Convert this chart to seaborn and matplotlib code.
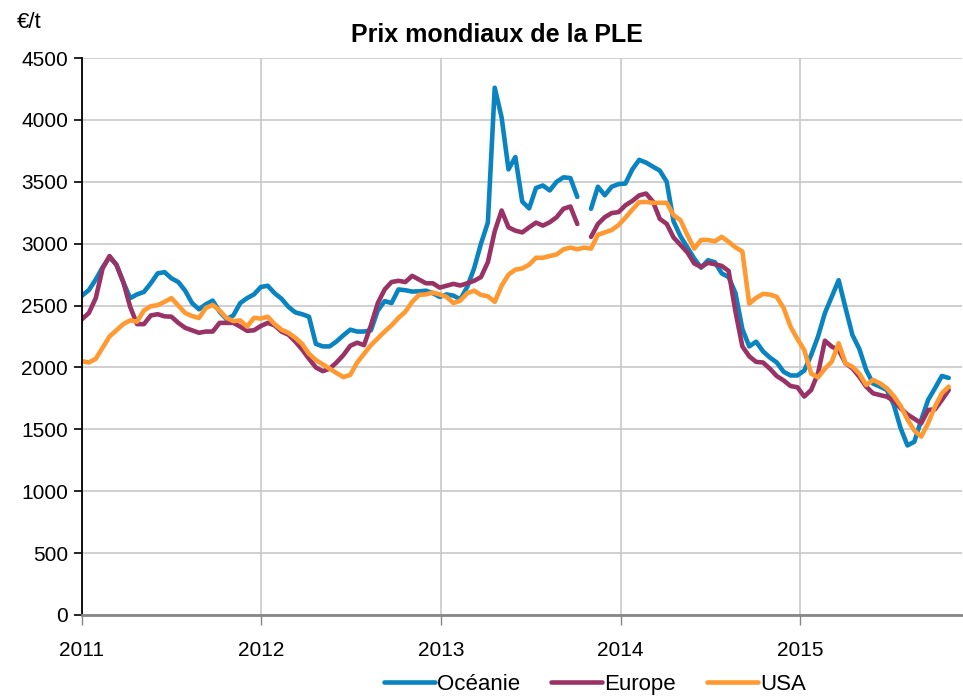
import pandas as pd
import numpy as np
import matplotlib
matplotlib.use("Agg")
import matplotlib.pyplot as plt
import matplotlib.dates as mdates
import seaborn as sns

# biweekly prices (EUR/t), from Jan 2011 to end Oct 2015
dates = pd.date_range("2011-01-01", periods=127, freq="14D")

oceanie = [2580, 2625, 2710, 2810, 2890, 2830, 2690, 2560, 2590, 2610,
           2680, 2760, 2770, 2720, 2690, 2620, 2520, 2470, 2510, 2540,
           2450, 2390, 2420, 2520, 2560, 2590, 2650, 2660, 2600, 2555,
           2490, 2445, 2430, 2410, 2190, 2170, 2170, 2210, 2260, 2305,
           2290, 2290, 2300, 2460, 2536, 2520, 2630, 2624, 2613, 2615,
           2620, 2600, 2570, 2590, 2580, 2550, 2650, 2800, 3000, 3170,
           4260, 4020, 3600, 3700, 3340, 3285, 3450, 3470, 3430, 3500,
           3536, 3530, 3378, np.nan, 3282, 3460, 3391, 3460, 3481, 3486,
           3600, 3677, 3655, 3622, 3590, 3500, 3180, 3060, 2970, 2880,
           2806, 2866, 2850, 2760, 2730, 2600, 2310, 2170, 2208, 2130,
           2080, 2040, 1965, 1935, 1935, 1975, 2100, 2250, 2440, 2572,
           2705, 2480, 2262, 2150, 1980, 1870, 1845, 1818, 1700, 1510,
           1370, 1400, 1575, 1737, 1832, 1931, 1915]

europe = [2390, 2440, 2560, 2800, 2900, 2830, 2690, 2490, 2350, 2350,
          2420, 2430, 2413, 2410, 2360, 2320, 2300, 2280, 2290, 2290,
          2360, 2360, 2360, 2330, 2296, 2300, 2335, 2360, 2340, 2290,
          2265, 2210, 2145, 2070, 2000, 1970, 1990, 2040, 2100, 2175,
          2200, 2180, 2340, 2520, 2630, 2690, 2700, 2690, 2740, 2710,
          2680, 2680, 2645, 2660, 2675, 2662, 2680, 2700, 2730, 2850,
          3100, 3268, 3132, 3105, 3091, 3132, 3170, 3146, 3173, 3214,
          3282, 3300, 3159, np.nan, 3055, 3159, 3214, 3247, 3255, 3310,
          3345, 3390, 3405, 3340, 3200, 3160, 3050, 2990, 2930, 2840,
          2812, 2845, 2834, 2820, 2780, 2450, 2170, 2090, 2045, 2040,
          1990, 1930, 1895, 1850, 1840, 1765, 1818, 1953, 2216, 2168,
          2141, 2033, 1993, 1925, 1845, 1791, 1777, 1764, 1730, 1670,
          1620, 1585, 1549, 1656, 1662, 1737, 1818]

usa = [2050, 2040, 2070, 2160, 2250, 2300, 2350, 2380, 2370, 2460,
       2495, 2503, 2530, 2560, 2500, 2440, 2415, 2400, 2480, 2505,
       2460, 2400, 2375, 2380, 2330, 2400, 2395, 2410, 2350, 2305,
       2280, 2240, 2190, 2110, 2060, 2025, 1990, 1955, 1922, 1940,
       2040, 2110, 2180, 2235, 2290, 2340, 2400, 2450, 2530, 2586,
       2590, 2605, 2590, 2570, 2520, 2540, 2600, 2620, 2586, 2575,
       2530, 2660, 2750, 2790, 2800, 2830, 2886, 2886, 2900, 2913,
       2954, 2968, 2955, 2968, 2960, 3072, 3091, 3110, 3150, 3210,
       3275, 3335, 3337, 3330, 3330, 3330, 3230, 3190, 3070, 2960,
       3030, 3030, 3019, 3055, 3015, 2970, 2937, 2515, 2562, 2594,
       2589, 2570, 2480, 2330, 2230, 2140, 1950, 1920, 1990, 2047,
       2195, 2033, 2006, 1950, 1858, 1899, 1872, 1832, 1770, 1690,
       1580, 1490, 1441, 1549, 1683, 1791, 1845]

regions = ["Océanie", "Europe", "USA"]
colors = ["#0A84C1", "#993366", "#FF9A33"]

# long format, with a segment id so that missing points leave a gap
frames = []
for name, vals in zip(regions, [oceanie, europe, usa]):
    d = pd.DataFrame({"date": dates, "prix": vals, "zone": name})
    d["seg"] = d["prix"].isna().cumsum()
    frames.append(d.dropna())
df = pd.concat(frames, ignore_index=True)

sns.set_theme(style="white")
plt.rcParams["font.family"] = ["Liberation Sans", "DejaVu Sans"]
plt.rcParams["text.color"] = "black"
plt.rcParams["xtick.color"] = "black"
plt.rcParams["ytick.color"] = "black"

fig = plt.figure(figsize=(9.63, 6.96), dpi=100)
ax = fig.add_axes([82 / 963, 81 / 696, 880 / 963, 557 / 696])

sns.lineplot(data=df, x="date", y="prix", hue="zone", units="seg",
             estimator=None, palette=colors, hue_order=regions,
             linewidth=3.3, ax=ax)

ax.set_ylim(0, 4500)
ax.set_yticks(np.arange(0, 4501, 500))
ax.set_xlim(pd.Timestamp("2011-01-01"), pd.Timestamp("2015-11-27"))
ax.xaxis.set_major_locator(mdates.YearLocator())
ax.xaxis.set_major_formatter(mdates.DateFormatter("%Y"))
ax.set_xlabel("")
ax.set_ylabel("")

ax.grid(True, color="#c8c8c8", linewidth=1.2)
ax.set_axisbelow(True)
for s in ["top", "right"]:
    ax.spines[s].set_visible(False)
ax.spines["left"].set_color("black")
ax.spines["left"].set_linewidth(1.3)
ax.spines["bottom"].set_color("#868686")
ax.spines["bottom"].set_linewidth(2)
ax.tick_params(axis="y", direction="out", length=6, width=1.2, color="black",
               labelcolor="black", labelsize=15, pad=4, left=True)
ax.tick_params(axis="x", direction="out", length=7, width=1, color="#868686",
               labelcolor="black", labelsize=15, pad=12, bottom=True)

ax.get_legend().remove()
handles, labels = ax.get_legend_handles_labels()
leg = fig.legend(handles, labels, loc="center", bbox_to_anchor=(0.618, 0.017),
                 ncol=3, frameon=False, fontsize=16, handlelength=2.3,
                 handletextpad=0.1, columnspacing=1.4, borderaxespad=0)
for t in leg.get_texts():
    t.set_color("black")

fig.text(0.516, 0.950, "Prix mondiaux de la PLE", ha="center", va="center",
         fontsize=18, fontweight="bold", color="black")
fig.text(0.018, 0.968, "€/t", ha="left", va="center", fontsize=16,
         color="black")

fig.savefig("out.png", dpi=100)
